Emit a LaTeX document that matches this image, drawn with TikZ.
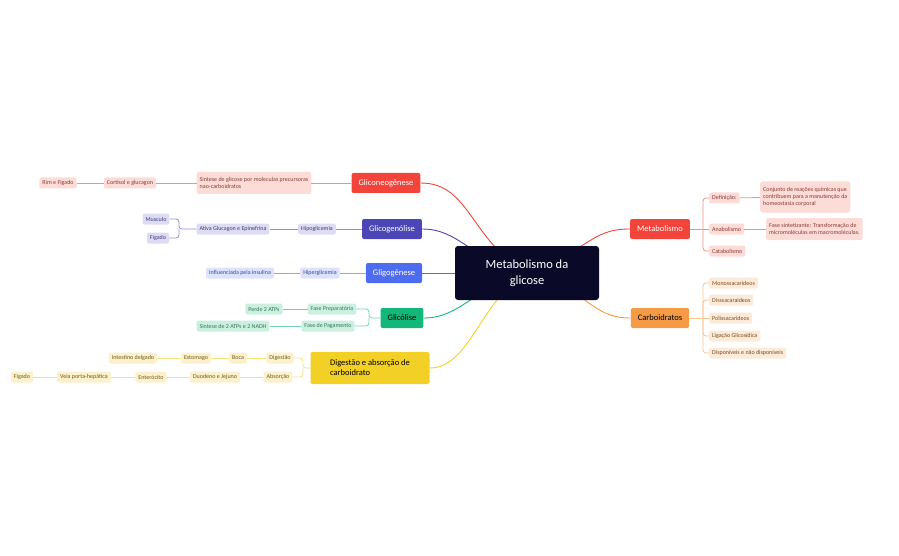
\documentclass[tikz,border=0pt]{standalone}
\usepackage{fontspec}
\setmainfont{Carlito}
\definecolor{rM}{HTML}{F2443B}\definecolor{rL}{HTML}{FDDCD8}\definecolor{rT}{HTML}{8A3A33}
\definecolor{pM}{HTML}{4B45B5}\definecolor{pL}{HTML}{DEDCF3}\definecolor{pT}{HTML}{3E3A80}
\definecolor{bM}{HTML}{4E6CF0}\definecolor{bL}{HTML}{DDE3FC}\definecolor{bT}{HTML}{3A4A9A}
\definecolor{gM}{HTML}{12B77A}\definecolor{gL}{HTML}{CDEFE0}\definecolor{gT}{HTML}{2E7A5A}
\definecolor{yM}{HTML}{F2D026}\definecolor{yL}{HTML}{FCF1CC}\definecolor{yT}{HTML}{6E5A1A}
\definecolor{oM}{HTML}{F59B45}\definecolor{oL}{HTML}{FDEBD9}\definecolor{oT}{HTML}{7A4A1C}
\definecolor{navy}{HTML}{0A0A28}
\begin{document}
\begin{tikzpicture}[x=1pt,y=-1pt,
 mainbox/.style={fill=#1M,text=white,rounded corners=2pt,minimum height=20pt,inner xsep=7pt,font=\fontsize{8.5}{10}\selectfont},
 sub/.style={fill=#1L,text=#1T,rounded corners=2pt,minimum height=11pt,inner xsep=3pt,inner ysep=1pt,font=\fontsize{6}{7}\selectfont,align=left},
 ln/.style={draw=#1M,line width=0.9pt},
 sl/.style={draw=#1M!60,line width=0.8pt,rounded corners=3pt}]
\useasboundingbox (0,0) rectangle (899,556);
% center & branches
\coordinate (c) at (527,273);
\node[mainbox=r] (glic) at (386,183) {Gliconeogênese};
\node[mainbox=p] (glgn) at (392,229) {Glicogenólise};
\node[mainbox=b] (glgg) at (394,273) {Gligogênese};
\node[mainbox=g,text=black] (glco) at (402,318) {Glicólise};
\node[mainbox=y,text=black,align=left,minimum width=119pt,minimum height=32pt] (dig) at (370,368) {Digestão e absorção de\\carboidrato};
\node[mainbox=r] (met) at (660,229) {Metabolismo};
\node[mainbox=o,text=black] (carb) at (660,318) {Carboidratos};
\draw[ln=r] (glic.east) .. controls (470,183) and (470,240) .. (c);
\draw[ln=p] (glgn.east) .. controls (460,229) and (470,260) .. (c);
\draw[ln=b] (glgg.east) -- (c);
\draw[ln=g] (glco.east) .. controls (460,318) and (470,290) .. (c);
\draw[ln=y] (dig.east) .. controls (470,368) and (480,300) .. (c);
\draw[ln=r] (met.west) .. controls (590,229) and (590,250) .. (c);
\draw[ln=o] (carb.west) .. controls (590,318) and (590,290) .. (c);
\node[fill=navy,text=white,rounded corners=3pt,minimum width=144pt,minimum height=54pt,align=center,font=\fontsize{12.5}{16}\selectfont] (ctr) at (527,273) {Metabolismo da\\glicose};
% gliconeogenese
\node[sub=r,minimum height=22pt,font=\fontsize{6}{7}\selectfont] (s1) at (254,183) {Sintese de glicose por moleculas precursoras\\nao-carboidratos};
\node[sub=r] (s2) at (130,183) {Cortisol e glucagon};
\node[sub=r] (s3) at (58,183) {Rim e Figado};
\draw[sl=r] (glic) -- (s1); \draw[sl=r] (s1) -- (s2); \draw[sl=r] (s2) -- (s3);
% glicogenolise
\node[sub=p] (p1) at (317,229) {Hipoglicemia};
\node[sub=p] (p2) at (233,229) {Ativa Glucagon e Epinefrina};
\node[sub=p] (p3) at (156,219) {Musculo};
\node[sub=p] (p4) at (158,238) {Figado};
\draw[sl=p] (glgn) -- (p1); \draw[sl=p] (p1) -- (p2);
\draw[sl=p] (p2.west) -- (179,229) |- (p3.east);
\draw[sl=p] (179,229) |- (p4.east);
% gligogenese
\node[sub=b,text=bT] (b1) at (320,273) {Hiperglicemia};
\node[sub=b,text=bT] (b2) at (240,273) {Influenciada pela insulina};
\draw[sl=b] (glgg) -- (b1); \draw[sl=b] (b1) -- (b2);
% glicolise
\node[sub=g] (g1) at (332,309) {Fase Preparatória};
\node[sub=g] (g2) at (264,309) {Perde 2 ATPs};
\node[sub=g] (g3) at (328,326) {Fase de Pagamento};
\node[sub=g] (g4) at (233,326) {Sintese de 2 ATPs e 2 NADH};
\draw[sl=g] (glco.west) -- (369,318) |- (g1.east);
\draw[sl=g] (369,318) |- (g3.east);
\draw[sl=g] (g1) -- (g2); \draw[sl=g] (g3) -- (g4);
% digestao
\node[sub=y] (y1) at (280,358) {Digestão};
\node[sub=y] (y2) at (238,358) {Boca};
\node[sub=y] (y3) at (196,358) {Estomago};
\node[sub=y] (y4) at (133,358) {Intestino delgado};
\node[sub=y] (y5) at (278,377) {Absorção};
\node[sub=y] (y6) at (215,377) {Duodeno e Jejuno};
\node[sub=y] (y7) at (151,377) {Enterócito};
\node[sub=y] (y8) at (84,377) {Veia porta-hepática};
\node[sub=y] (y9) at (22,377) {Figado};
\draw[sl=y] (dig.west) -- (303,368) |- (y1.east);
\draw[sl=y] (303,368) |- (y5.east);
\draw[sl=y] (y1) -- (y2); \draw[sl=y] (y2) -- (y3); \draw[sl=y] (y3) -- (y4);
\draw[sl=y] (y5) -- (y6); \draw[sl=y] (y6) -- (y7); \draw[sl=y] (y7) -- (y8); \draw[sl=y] (y8) -- (y9);
% metabolismo
\node[sub=r,anchor=west] (m1) at (709,198) {Definição:};
\node[sub=r,anchor=west,minimum height=31pt] (m2) at (760,197) {Conjunto de reações químicas que\\contribuem para a manutenção da\\homeostasia corporal};
\node[sub=r,anchor=west] (m3) at (709,229) {Anabolismo};
\node[sub=r,anchor=west,minimum height=22pt] (m4) at (766,229) {Fase sintetizante: Transformação de\\micromoléculas em macromoléculas.};
\node[sub=r,anchor=west] (m5) at (709,251) {Catabolismo};
\draw[sl=r] (met.east) -- (m3.west);
\draw[sl=r] (703,229) |- (m1.west);
\draw[sl=r] (703,229) |- (m5.west);
\draw[sl=r] (m1) -- (m2); \draw[sl=r] (m3) -- (m4);
% carboidratos
\node[sub=o,anchor=west] (o1) at (709,283) {Monossacarideos};
\node[sub=o,anchor=west] (o2) at (709,300) {Disssacaraideos};
\node[sub=o,anchor=west] (o3) at (709,318) {Polissacarideos};
\node[sub=o,anchor=west] (o4) at (709,336) {Ligação Glicosídica};
\node[sub=o,anchor=west] (o5) at (709,353) {Disponíveis e não disponíveis};
\draw[sl=o] (carb.east) -- (o3.west);
\foreach \n in {o1,o2,o4,o5} \draw[sl=o] (703,318) |- (\n.west);
\end{tikzpicture}
\end{document}
